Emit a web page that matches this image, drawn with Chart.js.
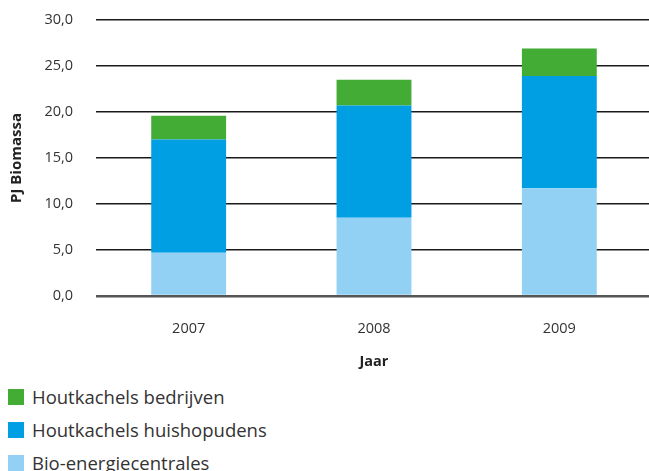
<!DOCTYPE html>
<html>
<head>
<meta charset="utf-8">
<script src="https://cdn.jsdelivr.net/npm/chart.js@4.4.1/dist/chart.umd.min.js"></script>
<style>
  html, body { margin: 0; padding: 0; background: #fff; overflow: hidden; }
  #wrap { position: relative; width: 656px; height: 375px; }
  #legend { position: absolute; left: 8px; top: 385px; font-family: "Open Sans", sans-serif; font-size: 18.5px; color: #333; }
  #legend div { height: 33px; line-height: 24px; display: flex; align-items: flex-start; }
  #legend span.box { display: inline-block; width: 16px; height: 16px; margin: 4px 8px 0 0; }
</style>
</head>
<body>
<div id="wrap"><canvas id="biomassChart" width="656" height="375"></canvas></div>
<div id="legend"></div>

<script>
// jaren en waarden per bron (PJ)
const years = ['2007', '2008', '2009'];
const bioCentrales = [4.7, 8.5, 11.7];
const huishoudens = [12.3, 12.2, 12.2];
const bedrijven = [2.6, 2.8, 3.0];

const seriesNames = ['Bio-energiecentrales', 'Houtkachels huishopudens', 'Houtkachels bedrijven'];
const seriesColors = ['#93d1f4', '#009fe3', '#43ac34'];
const seriesData = [bioCentrales, huishoudens, bedrijven];

const datasets = seriesData.map((d, i) => ({
    label: seriesNames[i],
    data: d,
    backgroundColor: seriesColors[i],
    borderWidth: 0,
    barPercentage: 0.404,
    categoryPercentage: 1.0
}));

const ctx = document.getElementById('biomassChart').getContext('2d');
const chart = new Chart(ctx, {
    type: 'bar',
    data: { labels: years, datasets: datasets },
    options: {
        responsive: false,
        animation: false,
        layout: { padding: { top: 20, right: 4, left: 0, bottom: 0 } },
        plugins: { legend: { display: false }, tooltip: { enabled: false } },
        scales: {
            x: {
                stacked: true,
                grid: { display: false },
                border: { display: false },
                ticks: { color: '#333', font: { family: 'Open Sans', size: 14.5 }, padding: 16 },
                title: { display: true, text: 'Jaar', color: '#222', font: { family: 'Open Sans', size: 14.5, weight: 'bold' }, padding: { top: 4, bottom: 4 } },
                afterFit: s => { s.height = 79; }
            },
            y: {
                stacked: true,
                min: 0, max: 30,
                ticks: {
                    stepSize: 5,
                    color: '#333',
                    font: { family: 'Open Sans', size: 14.5 },
                    padding: 23,
                    callback: v => v.toFixed(1).replace('.', ',')
                },
                grid: {
                    drawTicks: false,
                    color: ctx => ctx.tick && ctx.tick.value === 0 ? '#555' : '#1a1a1a',
                    lineWidth: ctx => ctx.tick && ctx.tick.value === 0 ? 2.5 : 1.5
                },
                border: { display: false },
                title: { display: true, text: 'PJ Biomassa', color: '#222', font: { family: 'Open Sans', size: 15, weight: 'bold' }, padding: { top: 8, bottom: 0 } },
                // vaste breedte, geen extra ruimte boven/onder voor de labels
                afterFit: s => { s.width = 96; s.paddingTop = 0; s.paddingBottom = 0; }
            }
        }
    }
});

// legenda: bovenste laag eerst
const legend = document.getElementById('legend');
for (let i = seriesNames.length - 1; i >= 0; i--) {
    const row = document.createElement('div');
    row.innerHTML = '<span class="box" style="background:' + seriesColors[i] + '"></span>' + seriesNames[i];
    legend.appendChild(row);
}
</script>
</body>
</html>
